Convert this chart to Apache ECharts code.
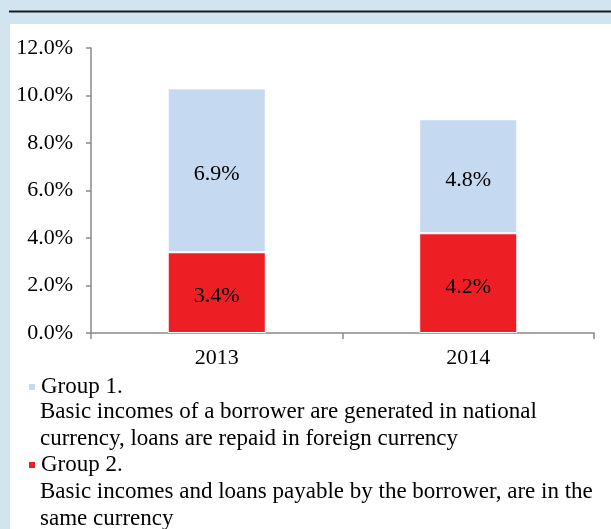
<!DOCTYPE html>
<html><head><meta charset="utf-8">
<script src="https://cdn.jsdelivr.net/npm/echarts@6/dist/echarts.min.js"></script>
<style>html,body{margin:0;padding:0;background:#d2e4f0}#c{width:611px;height:529px}</style>
</head><body><div id="c"></div>
<script>
var categories = ['2013', '2014'];
var group2 = [3.4, 4.2];
var group1 = [6.9, 4.8];
var seriesNames = ['Group 1.', 'Group 2.'];
var descriptions = [
  'Basic incomes of a borrower are generated in national\ncurrency, loans are repaid in foreign currency',
  'Basic incomes and loans payable by the borrower, are in the\nsame currency'
];
var FONT = '"Liberation Serif", "Times New Roman", serif';
var chart = echarts.init(document.getElementById('c'), null, {renderer: 'canvas'});
var lbl = {show: true, position: 'inside', offset: [0, 4], color: '#000', fontFamily: FONT, fontSize: 22,
  formatter: function (p) { return p.value.toFixed(1) + '%'; }};
chart.setOption({
  backgroundColor: '#d2e4f0',
  animation: false,
  graphic: [
    {type: 'rect', z: -10, shape: {x: 10, y: 24, width: 601, height: 505}, style: {fill: '#ffffff'}},
    {type: 'line', shape: {x1: 9, y1: 11.5, x2: 611, y2: 11.5}, style: {stroke: '#1a1a1a', lineWidth: 2}},
    {type: 'text', left: 40, top: 399, style: {text: descriptions[0], font: '23px ' + FONT, fill: '#000', lineHeight: 26.5}},
    {type: 'text', left: 40, top: 479, style: {text: descriptions[1], font: '23px ' + FONT, fill: '#000', lineHeight: 26.5}}
  ],
  legend: {
    orient: 'vertical', left: 27, top: 374, padding: 0, itemWidth: 8, itemHeight: 8, itemGap: 52,
    icon: 'rect', data: seriesNames,
    textStyle: {fontFamily: FONT, fontSize: 23, color: '#000', lineHeight: 26}
  },
  grid: {left: 91, right: 17, top: 48, bottom: 196},
  xAxis: {
    type: 'category', data: categories,
    axisLine: {lineStyle: {color: '#898989', width: 1.5}},
    axisTick: {show: true, length: 6, lineStyle: {color: '#898989', width: 1.5}},
    axisLabel: {color: '#000', fontFamily: FONT, fontSize: 22, margin: 14}
  },
  yAxis: {
    type: 'value', min: 0, max: 12, interval: 2,
    axisLine: {show: true, lineStyle: {color: '#898989', width: 1.5}},
    axisTick: {show: true, length: 5, lineStyle: {color: '#898989', width: 1.5}},
    splitLine: {show: false},
    axisLabel: {color: '#000', fontFamily: FONT, fontSize: 22, margin: 18,
      formatter: function (v) { return v.toFixed(1) + '%'; }}
  },
  series: [
    {name: seriesNames[1], type: 'bar', stack: 's', data: group2, barWidth: '39%',
      itemStyle: {color: '#ee1f24', borderColor: '#fff', borderWidth: 1}, label: lbl},
    {name: seriesNames[0], type: 'bar', stack: 's', data: group1, barWidth: '39%',
      itemStyle: {color: '#c5d9f0', borderColor: '#fff', borderWidth: 1}, label: lbl}
  ]
});
</script></body></html>
